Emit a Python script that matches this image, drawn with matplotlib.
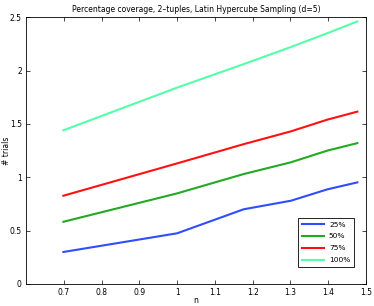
import numpy as np
import matplotlib
matplotlib.use("Agg")
import matplotlib.pyplot as plt

n_vals = [5, 10, 15, 20, 25, 30]
x = np.log10(n_vals)
labels = ["25%", "50%", "75%", "100%"]
y25 = [0.30, 0.475, 0.70, 0.78, 0.887, 0.952]
y50 = [0.583, 0.849, 1.03, 1.14, 1.25, 1.32]
y75 = [0.827, 1.13, 1.31, 1.43, 1.54, 1.615]
y100 = [1.44, 1.84, 2.06, 2.22, 2.35, 2.46]
colors = ["#2f4dff", "#22aa22", "#ff1111", "#55ffaa"]

fig = plt.figure(figsize=(3.74, 3.06), dpi=100)
ax = fig.add_axes([0.0695, 0.0719, 0.9091, 0.872])
for ys, c, l in zip([y25, y50, y75, y100], colors, labels):
    ax.plot(x, ys, color=c, lw=1.5, label=l)
ax.set_xlim(0.6, 1.5)
ax.set_ylim(0, 2.5)
ax.set_xticks([0.7, 0.8, 0.9, 1.0, 1.1, 1.2, 1.3, 1.4, 1.5])
ax.set_xticklabels(["0.7", "0.8", "0.9", "1", "1.1", "1.2", "1.3", "1.4", "1.5"])
ax.set_yticks([0, 0.5, 1, 1.5, 2, 2.5])
ax.set_yticklabels(["0", "0.5", "1", "1.5", "2", "2.5"])
ax.tick_params(direction="in", top=True, right=True, labelsize=5.5, length=3, width=0.5, pad=3)
for s in ax.spines.values():
    s.set_linewidth(0.6)
ax.set_title("Percentage coverage, 2\u2013tuples, Latin Hypercube Sampling (d=5)", fontsize=5.5, pad=4)
ax.set_xlabel("n", fontsize=5.5)
ax.set_ylabel("# trials", fontsize=5.5)
ax.xaxis.set_label_coords(0.5, -0.06)
ax.yaxis.set_label_coords(-0.058, 0.5)
ax.xaxis.label.set_va("center")
ax.yaxis.label.set_va("center")
leg = ax.legend(loc="lower right", bbox_to_anchor=(0.965, 0.064), borderaxespad=0,
                fontsize=5.4, fancybox=False, edgecolor="black",
                framealpha=1, handlelength=3.0, labelspacing=0.75,
                borderpad=0.5, handletextpad=0.6)
leg.get_frame().set_linewidth(0.6)
fig.savefig("out.png", dpi=100)
